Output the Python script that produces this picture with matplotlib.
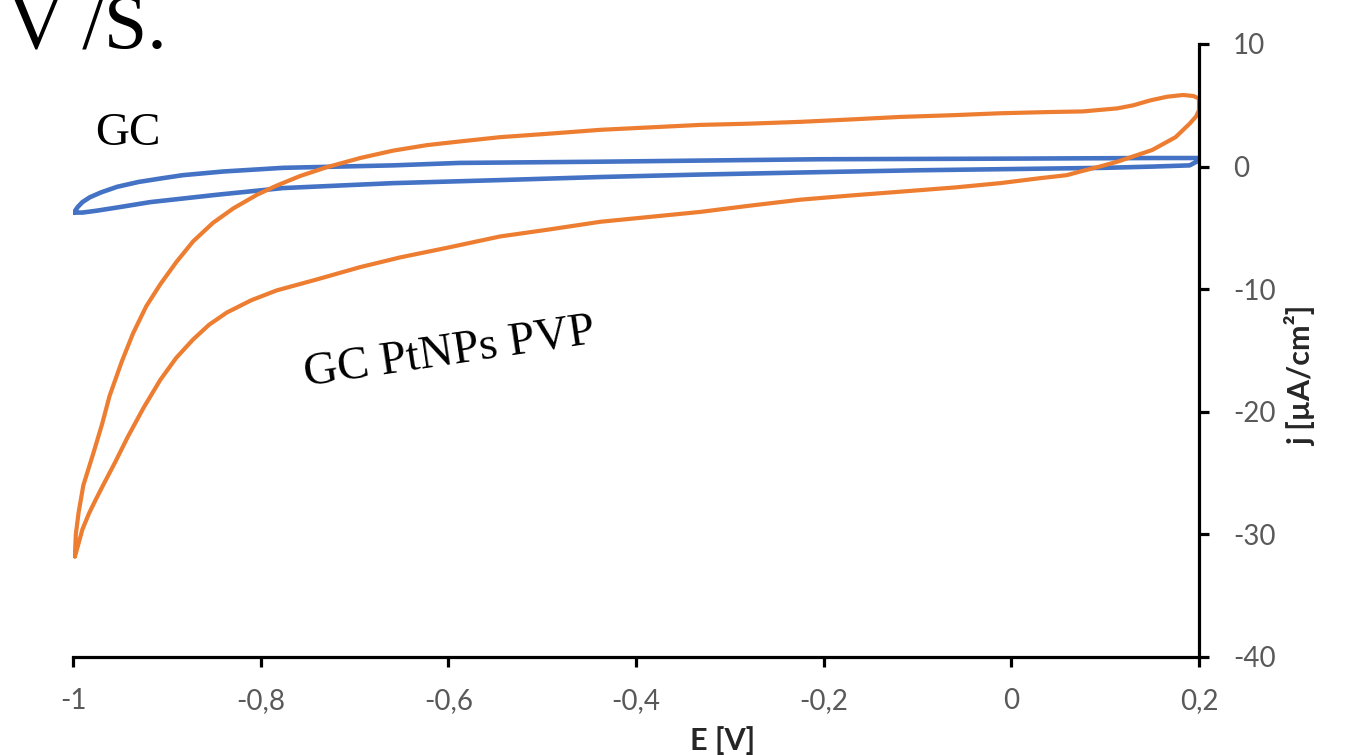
import matplotlib
matplotlib.use("Agg")
import matplotlib.pyplot as plt

# ---- data ----
# GC PtNPs PVP (orange): upper branch (left->right), then lower branch (right->left)
pt_E_up = [-0.998, -0.997, -0.994, -0.989, -0.978, -0.969, -0.961, -0.948, -0.936, -0.922,
           -0.907, -0.890, -0.872, -0.851, -0.829, -0.804, -0.783, -0.758, -0.730,
           -0.694, -0.659, -0.623, -0.588, -0.545, -0.490, -0.438, -0.385, -0.332,
           -0.280, -0.225, -0.170, -0.119, -0.060, -0.012, 0.040, 0.076, 0.113,
           0.130, 0.148, 0.166, 0.183, 0.194, 0.200]
pt_j_up = [-31.8, -30.0, -28.2, -26.0, -23.3, -21.0, -18.7, -15.9, -13.6, -11.4,
           -9.6, -7.8, -6.1, -4.6, -3.4, -2.3, -1.55, -0.77, -0.06,
           0.7, 1.3, 1.75, 2.05, 2.4, 2.7, 3.0, 3.2, 3.4,
           3.5, 3.65, 3.85, 4.05, 4.2, 4.35, 4.45, 4.5, 4.75,
           5.0, 5.4, 5.7, 5.84, 5.76, 5.55]
pt_E_down = [0.200, 0.197, 0.190, 0.175, 0.150, 0.113, 0.094, 0.076, 0.059, 0.030,
             -0.012, -0.060, -0.119, -0.170, -0.225, -0.280, -0.332, -0.385, -0.438,
             -0.490, -0.545, -0.600, -0.651, -0.694, -0.740, -0.783, -0.810, -0.836,
             -0.855, -0.872, -0.890, -0.907, -0.925, -0.942, -0.955, -0.968, -0.976,
             -0.983, -0.990, -0.995, -0.998]
pt_j_down = [4.6, 4.1, 3.5, 2.4, 1.35, 0.4, 0.0, -0.35, -0.7, -0.95,
             -1.35, -1.7, -2.05, -2.35, -2.7, -3.2, -3.7, -4.1, -4.5,
             -5.1, -5.7, -6.6, -7.4, -8.2, -9.2, -10.1, -10.9, -11.9,
             -12.9, -14.1, -15.6, -17.4, -19.7, -22.1, -24.1, -26.0, -27.2,
             -28.3, -29.6, -31.0, -31.8]

# GC (blue)
gc_E_up = [-0.999, -0.995, -0.990, -0.982, -0.970, -0.953, -0.930, -0.905, -0.883,
           -0.840, -0.776, -0.659, -0.588, -0.438, -0.204, 0.0, 0.15, 0.2]
gc_j_up = [-3.75, -3.3, -2.9, -2.5, -2.1, -1.65, -1.25, -0.95, -0.7,
           -0.4, -0.1, 0.1, 0.3, 0.4, 0.6, 0.65, 0.7, 0.7]
gc_E_down = [0.2, 0.19, 0.15, 0.1, 0.0, -0.1, -0.204, -0.332, -0.438, -0.545,
             -0.659, -0.776, -0.847, -0.918, -0.950, -0.975, -0.990, -0.999]
gc_j_down = [0.5, 0.1, 0.0, -0.1, -0.2, -0.3, -0.45, -0.65, -0.85, -1.1,
             -1.35, -1.75, -2.3, -2.9, -3.3, -3.6, -3.75, -3.75]

x_ticks = [-1.0, -0.8, -0.6, -0.4, -0.2, 0.0, 0.2]
x_ticklabels = ["-1", "-0,8", "-0,6", "-0,4", "-0,2", "0", "0,2"]
y_ticks = [-40, -30, -20, -10, 0, 10]
y_ticklabels = ["-40", "-30", "-20", "-10", "0", "10"]

# ---- figure ----
W, H = 1369, 755
fig = plt.figure(figsize=(W / 100, H / 100), dpi=100)
ax = fig.add_axes([73 / W, 1 - 657 / H, (1199 - 73) / W, (657 - 44) / H])

blue = "#4472C4"
orange = "#ED7D31"

ax.plot(gc_E_up + gc_E_down, gc_j_up + gc_j_down, color=blue, lw=3.3,
        solid_joinstyle="round", solid_capstyle="round")
ax.plot(pt_E_up + pt_E_down, pt_j_up + pt_j_down, color=orange, lw=3.0,
        solid_joinstyle="round", solid_capstyle="round")

ax.set_xlim(-1.0, 0.2)
ax.set_ylim(-40, 10)

for s in ["top", "left"]:
    ax.spines[s].set_visible(False)
for s in ["bottom", "right"]:
    ax.spines[s].set_color("black")
    ax.spines[s].set_linewidth(2.3)

ax.yaxis.tick_right()
ax.yaxis.set_label_position("right")
ax.set_xticks(x_ticks)
ax.set_xticklabels(x_ticklabels)
ax.set_yticks(y_ticks)
ax.set_yticklabels(y_ticklabels)
ax.tick_params(axis="both", direction="out", length=7.5, width=2.3, color="black",
               labelcolor="#595959", labelsize=20)
ax.tick_params(axis="x", pad=15)
ax.tick_params(axis="y", pad=17)
for lab in ax.get_xticklabels() + ax.get_yticklabels():
    lab.set_family("Lato")

ax.set_xlabel("E [V]", fontsize=22, fontweight="bold", family="Lato", color="#262626")
ax.xaxis.set_label_coords((723 - 73) / 1126, (657 - 741) / 613)
ax.xaxis.label.set_va("center")
ax.set_ylabel("j [µA/cm²]", fontsize=22, fontweight="bold", family="Lato",
              color="#262626", rotation=90)
ax.yaxis.set_label_coords((1301 - 73) / 1126, (657 - 376) / 613)
ax.yaxis.label.set_va("center")
ax.yaxis.label.set_ha("center")

# annotations (serif, black)
fig.text(8 / W, 1 - 48 / H, "V /S.", fontsize=56, family="Liberation Serif",
         va="baseline", ha="left", color="black")
fig.text(95 / W, 1 - 145 / H, "GC", fontsize=34, family="Liberation Serif",
         va="baseline", ha="left", color="black")
fig.text(306 / W, 1 - 386 / H, "GC PtNPs PVP", fontsize=34, family="Liberation Serif",
         va="baseline", ha="left", rotation=8.5, rotation_mode="anchor", color="black")

fig.savefig("out.png", dpi=100)
